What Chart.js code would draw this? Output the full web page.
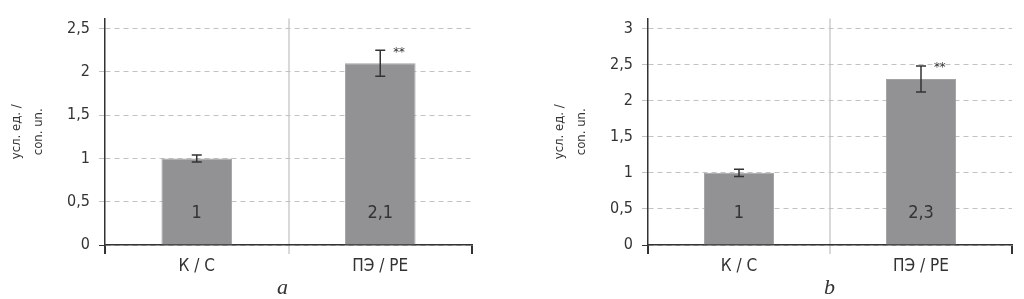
<!DOCTYPE html>
<html>
<head>
<meta charset="utf-8">
<script src="https://cdn.jsdelivr.net/npm/chart.js@4/dist/chart.umd.min.js"></script>
<style>
    body { margin: 0; background: #fff; width: 1024px; height: 299px; overflow: hidden; position: relative; }
    #boxA { position: absolute; left: 0; top: 0; }
    #boxB { position: absolute; left: 543px; top: 0; }
    .panel { position: absolute; top: 274px; font-family: 'Liberation Serif', 'DejaVu Serif', serif; font-style: italic; font-size: 22px; color: #333; }
</style>
</head>
<body>
<div id="boxA"><canvas id="chartA" width="490" height="299"></canvas></div>
<div id="boxB"><canvas id="chartB" width="481" height="299"></canvas></div>
<span class="panel" style="left:277px">a</span>
<span class="panel" style="left:824px">b</span>
<script>
var categorias = ['К / С', 'ПЭ / PE'];

var valoresA = [1, 2.1];
var erroresA = [0.04, 0.15];
var etiquetasA = ['1', '2,1'];
var signifA = ['', '**'];
var ticksA = [0, 0.5, 1, 1.5, 2, 2.5];

var valoresB = [1, 2.3];
var erroresB = [0.05, 0.18];
var etiquetasB = ['1', '2,3'];
var signifB = ['', '**'];
var ticksB = [0, 0.5, 1, 1.5, 2, 2.5, 3];

var tituloY = ['усл. ед. /', 'con. un.'];

var FUENTE = "'Liberation Sans Narrow', 'DejaVu Sans Condensed', 'Open Sans', sans-serif";
var TEXTO = '#333';
var GRIS_BARRA = '#929295';

// barras de error, valor dentro de la barra y asteriscos
var errorBarPlugin = {
    id: 'errorBars',
    afterDatasetsDraw: function (chart, args, opts) {
        var ctx = chart.ctx;
        var y = chart.scales.y;
        var meta = chart.getDatasetMeta(0);
        var base = y.getPixelForValue(0);
        ctx.save();
        meta.data.forEach(function (bar, i) {
            var v = opts.values[i];
            var e = opts.errors[i];
            var top = y.getPixelForValue(v + e);
            var bot = y.getPixelForValue(v - e);
            ctx.strokeStyle = TEXTO;
            ctx.lineWidth = 1.5;
            ctx.beginPath();
            ctx.moveTo(bar.x, top);
            ctx.lineTo(bar.x, bot);
            ctx.moveTo(bar.x - 5, top);
            ctx.lineTo(bar.x + 5, top);
            ctx.moveTo(bar.x - 5, bot);
            ctx.lineTo(bar.x + 5, bot);
            ctx.stroke();

            ctx.fillStyle = TEXTO;
            ctx.textAlign = 'center';
            ctx.textBaseline = 'middle';
            ctx.font = '18px ' + FUENTE;
            ctx.fillText(opts.labels[i], bar.x, base - 32);

            if (opts.signif[i]) {
                ctx.font = '13px ' + FUENTE;
                ctx.textAlign = 'left';
                ctx.fillText(opts.signif[i], bar.x + 13, top + 2);
            }
        });
        ctx.restore();
    }
};

var crear_grafico = function (id, valores, errores, etiquetas, signif, ticks, maxY, padRight) {
    var ctx = document.getElementById(id);
    return new Chart(ctx, {
        type: 'bar',
        data: {
            labels: categorias,
            datasets: [{
                data: valores,
                backgroundColor: GRIS_BARRA,
                borderColor: '#a3a3a6',
                borderWidth: 1,
                categoryPercentage: 1,
                barPercentage: 0.385
            }]
        },
        plugins: [errorBarPlugin],
        options: {
            responsive: false,
            animation: false,
            layout: { padding: { top: 18, right: padRight, left: 0, bottom: 0 } },
            plugins: {
                legend: { display: false },
                tooltip: { enabled: false },
                errorBars: { values: valores, errors: errores, labels: etiquetas, signif: signif }
            },
            scales: {
                x: {
                    afterFit: function (s) { s.height = 54; },
                    grid: {
                        offset: true,
                        tickLength: 9,
                        color: function (c) { return c.index === 1 ? '#d9d9d9' : 'rgba(0,0,0,0)'; },
                        tickColor: function (c) { return c.index === 1 ? '#d9d9d9' : TEXTO; },
                        lineWidth: 2
                    },
                    border: { color: TEXTO, width: 1.5 },
                    ticks: { color: TEXTO, padding: 2, font: { family: FUENTE, size: 17 } }
                },
                y: {
                    min: 0,
                    max: maxY,
                    afterFit: function (s) { s.width = 105; },
                    afterBuildTicks: function (s) {
                        s.ticks = ticks.map(function (v) { return { value: v }; });
                    },
                    grid: {
                        color: '#c2c2c2',
                        tickLength: 6,
                        tickColor: function (c) { return c.tick && c.tick.value === 0 ? TEXTO : '#c2c2c2'; },
                        lineWidth: 1
                    },
                    border: { color: TEXTO, width: 1.5, dash: [5, 4] },
                    ticks: {
                        color: TEXTO,
                        padding: 9,
                        font: { family: FUENTE, size: 16 },
                        callback: function (v) { return String(v).replace('.', ','); }
                    },
                    title: {
                        display: true,
                        text: tituloY,
                        color: TEXTO,
                        padding: { top: 6, bottom: 0 },
                        font: { family: FUENTE, size: 13, lineHeight: '22px' }
                    }
                }
            }
        }
    });
};

crear_grafico('chartA', valoresA, erroresA, etiquetasA, signifA, ticksA, 2.615, 18);
crear_grafico('chartB', valoresB, erroresB, etiquetasB, signifB, ticksB, 3.138, 12);
</script>
</body>
</html>
